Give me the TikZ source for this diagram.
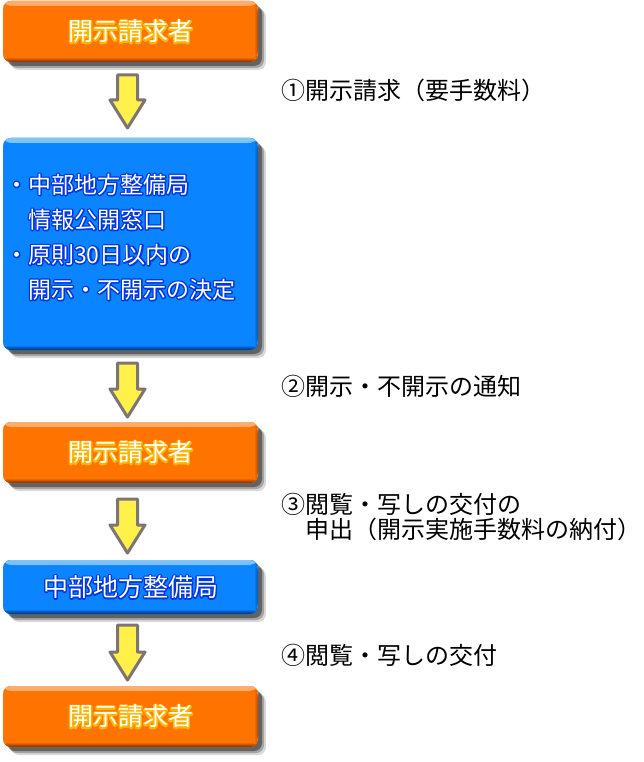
\documentclass[tikz,border=0pt]{standalone}
\usepackage{fontspec}
\setmainfont{Noto Sans CJK JP}
\usetikzlibrary{shadows,calc}
\definecolor{orbody}{HTML}{FF7400}
\definecolor{orlight}{HTML}{FFAE70}
\definecolor{ordark}{HTML}{7A2E00}
\definecolor{orglow}{HTML}{FFB400}
\definecolor{blbody}{HTML}{0A84FF}
\definecolor{bllight}{HTML}{80C4FF}
\definecolor{bldark}{HTML}{00306E}
\definecolor{blglow}{HTML}{0036E0}
\definecolor{arrfill}{HTML}{FFF04A}
\definecolor{arrline}{HTML}{7D7575}
\newcommand\glowtxt[2]{\leavevmode
 \rlap{\special{pdf:literal direct 2 Tr 2.8 w 1 j}\textcolor{#1}{#2}\special{pdf:literal direct 0 Tr}}%
 \textcolor{white}{#2}}
\tikzset{
 softshadow/.style={
  drop shadow={shadow xshift=8pt,shadow yshift=-8pt,opacity=.15,fill=black},
  drop shadow={shadow xshift=6pt,shadow yshift=-6pt,opacity=.25,fill=black},
  drop shadow={shadow xshift=4pt,shadow yshift=-4pt,opacity=.4,fill=black}},
 flowbox/.style n args={3}{softshadow, rounded corners=8pt, minimum width=255pt,
  inner sep=0pt, outer sep=0pt, fill=#1, text=white,
  font=\fontsize{25}{25}\selectfont,
  path picture={
   \fill[top color=#2,bottom color=#1] (path picture bounding box.north west) rectangle ([yshift=-5pt]path picture bounding box.north east);
   \fill[top color=#1,bottom color=#3] ([yshift=5pt]path picture bounding box.south west) rectangle (path picture bounding box.south east);
   \fill[left color=#1,right color=#3!60!#1] ([xshift=-4pt,yshift=-4pt]path picture bounding box.north east) rectangle ([yshift=4pt]path picture bounding box.south east);
  }},
 obox/.style={flowbox={orbody}{orlight}{ordark}},
 bbox/.style={flowbox={blbody}{bllight}{bldark}},
 blockarr/.style={fill=arrfill, draw=arrline, line width=3pt, line join=round,
  to path={let \p1=(\tikztostart), \p2=(\tikztotarget) in
   (\x1-10pt,\y1) -- (\x1+10pt,\y1) -- (\x1+10pt,\y2+28pt) -- (\x1+17.5pt,\y2+28pt)
   -- (\x1,\y2) -- (\x1-17.5pt,\y2+28pt) -- (\x1-10pt,\y2+28pt) -- cycle}},
 steplabel/.style={anchor=west, inner sep=0pt, align=left, text=black,
  font=\fontsize{24}{25}\selectfont}
}
\begin{document}
\begin{tikzpicture}[x=1pt,y=-1pt]
\useasboundingbox (0,0) rectangle (643,762);
% boxes
\node[obox, minimum height=61pt] (b1) at (130.5,31.5) {\glowtxt{orglow}{開示請求者}};
\node[bbox, minimum height=212pt] (b2) at (130.5,244) {};
\node[anchor=west, align=left, inner sep=0pt, text=white, font=\fontsize{23}{35}\selectfont] (t2) at (5,237)
 {\glowtxt{blglow}{・中部地方整備局}\\
  \glowtxt{blglow}{\hphantom{・}情報公開窓口}\\
  \glowtxt{blglow}{・原則30日以内の}\\
  \glowtxt{blglow}{\hphantom{・}開示・不開示の決定}};
\node[obox, minimum height=61pt] (b3) at (130.5,452.5) {\glowtxt{orglow}{開示請求者}};
\node[bbox, minimum height=54pt] (b4) at (130.5,587) {\glowtxt{blglow}{中部地方整備局}};
\node[obox, minimum height=61pt] (b5) at (130.5,716.5) {\glowtxt{orglow}{開示請求者}};
% arrows
\draw[blockarr] ([xshift=-3pt,yshift=-13pt]b1.south) to ([xshift=-3pt,yshift=10pt]b2.north);
\draw[blockarr] ([xshift=-3pt,yshift=-13pt]b2.south) to ([xshift=-3pt,yshift=5pt]b3.north);
\draw[blockarr] ([xshift=-3pt,yshift=-16pt]b3.south) to ([xshift=-3pt,yshift=7pt]b4.north);
\draw[blockarr] ([xshift=-3pt,yshift=-11pt]b4.south) to ([xshift=-3pt,yshift=6pt]b5.north);
% labels
\node[steplabel] (l1) at (281,90) {①開示請求（要手数料）};
\node[steplabel] (l2) at (281,386) {②開示・不開示の通知};
\node[steplabel] (l3) at (281,517) {③閲覧・写しの交付の\\\hphantom{③}申出（開示実施手数料の納付）};
\node[steplabel] (l4) at (281,655) {④閲覧・写しの交付};
\end{tikzpicture}
\end{document}
